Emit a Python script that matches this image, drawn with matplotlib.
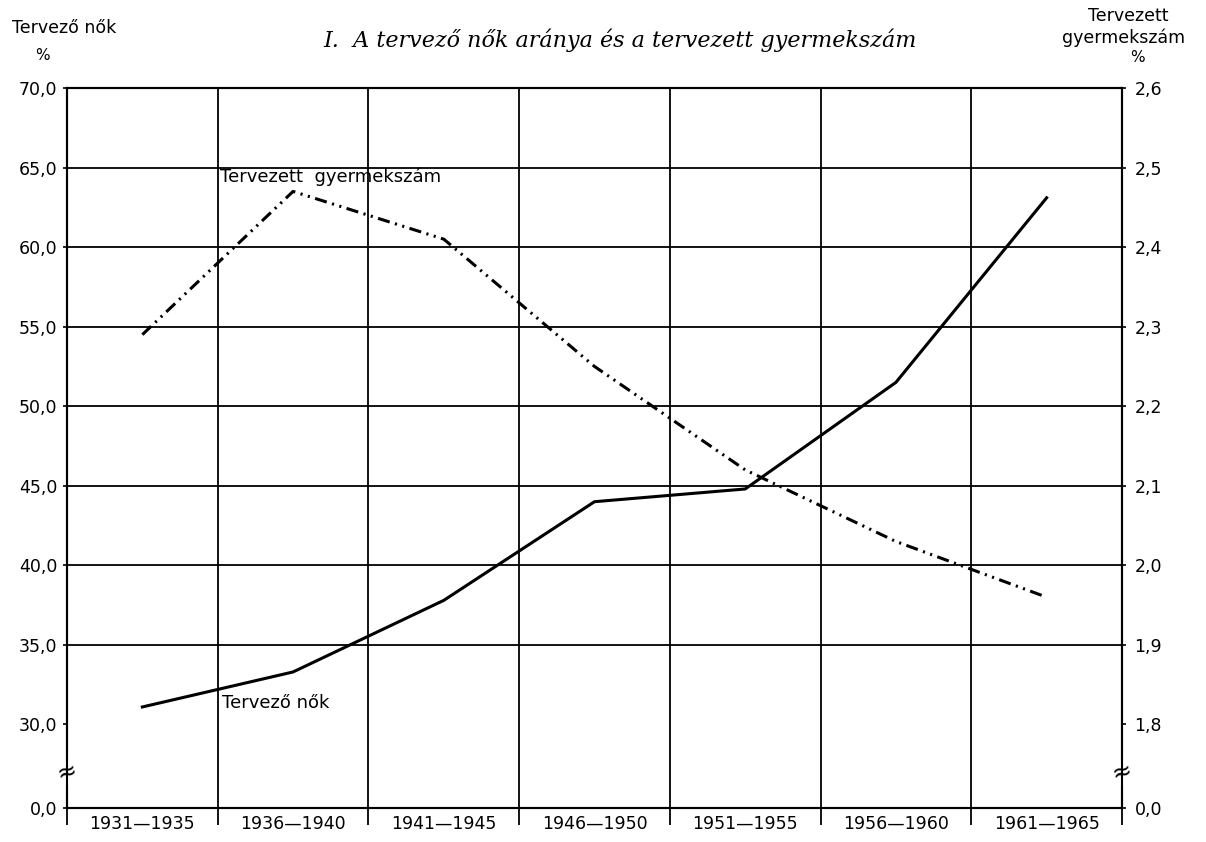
import numpy as np
import matplotlib
matplotlib.use('Agg')
import matplotlib.pyplot as plt

# data
periods = ['1931—1935', '1936—1940', '1941—1945', '1946—1950',
           '1951—1955', '1956—1960', '1961—1965']
tervezo_nok = [31.1, 33.3, 37.8, 44.0, 44.8, 51.5, 63.1]          # % (left axis)
gyermekszam = [2.29, 2.47, 2.41, 2.25, 2.12, 2.03, 1.96]          # right axis

left_ticks = [30, 35, 40, 45, 50, 55, 60, 65, 70]
left_labels = ['30,0', '35,0', '40,0', '45,0', '50,0', '55,0', '60,0', '65,0', '70,0']
right_ticks = [1.8, 1.9, 2.0, 2.1, 2.2, 2.3, 2.4, 2.5, 2.6]
right_labels = ['1,8', '1,9', '2,0', '2,1', '2,2', '2,3', '2,4', '2,5', '2,6']

# broken axis: "0,0" sits a bit below 30,0
zero_pos = 24.75
def to_right(v):
    return 1.8 + (v - 30) * 0.02

plt.rcParams['font.family'] = ['DejaVu Sans']
W, H = 1206, 842
fig = plt.figure(figsize=(W / 100, H / 100), dpi=100)
ax = fig.add_axes([67 / W, 1 - 808 / H, (1122 - 67) / W, (808 - 88) / H])

x = np.arange(len(periods))
ax.set_xlim(-0.5, len(periods) - 0.5)
ax.set_ylim(zero_pos, 70)

# grid
for yv in left_ticks[1:-1]:
    ax.axhline(yv, color='black', lw=1.3, zorder=1)
for xv in np.arange(0.5, len(periods) - 0.5, 1):
    ax.axvline(xv, color='black', lw=1.3, zorder=1)

for s in ax.spines.values():
    s.set_linewidth(1.5)

ax.set_yticks([zero_pos] + left_ticks)
ax.set_yticklabels(['0,0'] + left_labels)
ax.tick_params(axis='y', length=3, width=1.2, labelsize=12.5, pad=4)

ax.set_xticks(x)
ax.set_xticklabels(periods)
ax.set_xticks(np.arange(-0.5, len(periods), 1), minor=True)
ax.tick_params(axis='x', which='major', length=0, labelsize=12.5, pad=5)
ax.tick_params(axis='x', which='minor', length=12, width=1.3, direction='out')

ax2 = ax.twinx()
ax2.set_ylim(to_right(zero_pos), to_right(70))
ax2.set_yticks([to_right(zero_pos)] + right_ticks)
ax2.set_yticklabels(['0,0'] + right_labels)
ax2.tick_params(axis='y', length=3, width=1.2, labelsize=12.5, pad=6)
for s in ax2.spines.values():
    s.set_linewidth(1.5)

ax.plot(x, tervezo_nok, color='black', lw=2.2, zorder=3,
        solid_joinstyle='round')
ax2.plot(x, gyermekszam, color='black', lw=2.2, zorder=3,
         linestyle=(0, (4, 1.8, 0.7, 1.8, 0.7, 1.8)))

# axis break marks
for xa in (0, 1):
    ax.text(xa, 27.0, '≈', transform=ax.get_yaxis_transform(),
            ha='center', va='center', fontsize=17, rotation=15,
            bbox=dict(facecolor='white', edgecolor='none', pad=0.3), zorder=5,
            clip_on=False)

# series labels
fig.text(220 / W, 1 - 177 / H, 'Tervezett  gyermekszám', fontsize=13,
         ha='left', va='center')
fig.text(222 / W, 1 - 703 / H, 'Tervező nők', fontsize=13,
         ha='left', va='center')

# axis titles
fig.text(12 / W, 1 - 28 / H, 'Tervező nők', fontsize=12.5, ha='left', va='center')
fig.text(42 / W, 1 - 56 / H, '%', fontsize=11, ha='center', va='center')
fig.text(1128 / W, 1 - 16 / H, 'Tervezett', fontsize=12.5, ha='center', va='center')
fig.text(1124 / W, 1 - 38 / H, 'gyermekszám', fontsize=12.5, ha='center', va='center')
fig.text(1137 / W, 1 - 58 / H, '%', fontsize=11, ha='center', va='center')

fig.text(620 / W, 1 - 40 / H, 'I.  A tervező nők aránya és a tervezett gyermekszám',
         fontsize=16, ha='center', va='center', style='italic',
         family=['DejaVu Serif'])

fig.savefig('out.png', dpi=100)
